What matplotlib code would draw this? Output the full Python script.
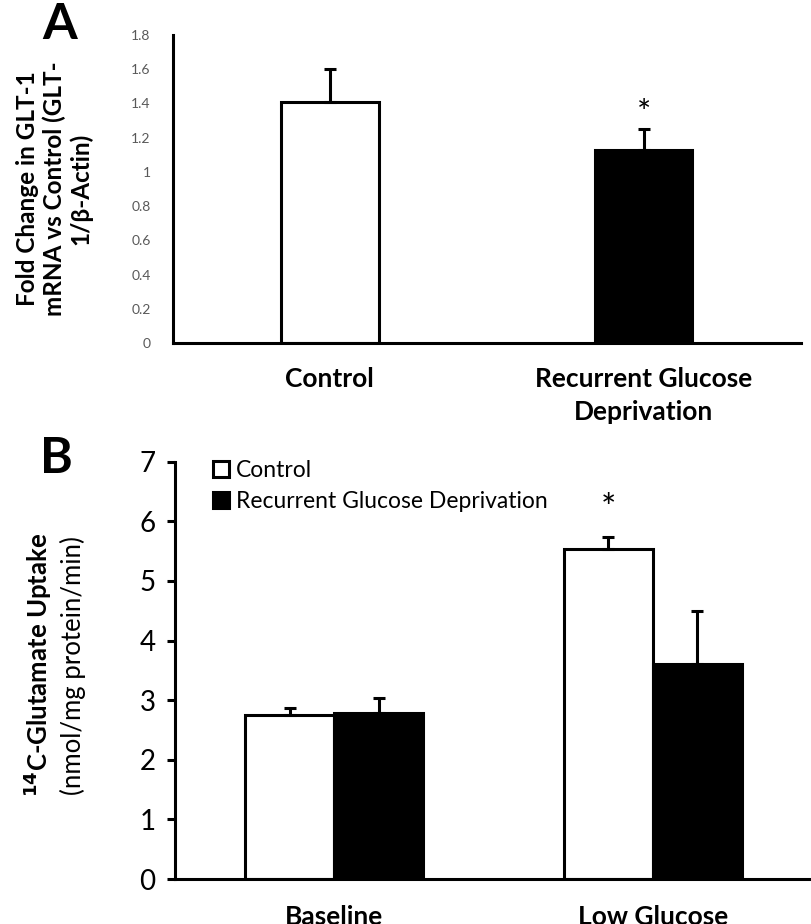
import numpy as np
import matplotlib
matplotlib.use("Agg")
import matplotlib.pyplot as plt

plt.rcParams['font.family'] = ['Lato', 'DejaVu Sans']

# panel A data
a_groups = ["Control", "Recurrent Glucose\nDeprivation"]
a_means = [1.41, 1.13]
a_err = [0.19, 0.12]
a_colors = ["white", "black"]

# panel B data
b_groups = ["Baseline", "Low Glucose"]
b_control = [2.75, 5.53]
b_control_err = [0.12, 0.20]
b_rgd = [2.79, 3.60]
b_rgd_err = [0.24, 0.90]

fig = plt.figure(figsize=(8.12, 9.24), dpi=100)
ekw = dict(ecolor="black", elinewidth=2.2, capsize=4, capthick=2.2)

# ---- panel A ----
axA = fig.add_axes([0.213, 0.6288, 0.773, 0.3333])
xa = np.arange(len(a_groups))
axA.bar(xa, a_means, width=0.31, color=a_colors, edgecolor="black", linewidth=2.2,
        yerr=[np.zeros(2), a_err], error_kw=ekw)
axA.set_xlim(-0.5, 1.5)
axA.set_ylim(0, 1.8)
axA.set_yticks(np.arange(0, 1.81, 0.2))
axA.set_yticklabels(["0", "0.2", "0.4", "0.6", "0.8", "1", "1.2", "1.4", "1.6", "1.8"])
axA.tick_params(axis="y", length=0, labelsize=10, labelcolor="#595959", pad=16)
axA.set_xticks(xa)
axA.set_xticklabels(a_groups, fontsize=19, fontweight="bold", linespacing=1.45)
axA.tick_params(axis="x", length=0, pad=17)
for s in ["top", "right"]:
    axA.spines[s].set_visible(False)
for s in ["left", "bottom"]:
    axA.spines[s].set_linewidth(2.2)
axA.text(1, a_means[1] + a_err[1] + 0.09, "*", ha="center", va="center", fontsize=24)
axA.set_ylabel("Fold Change in GLT-1\nmRNA vs Control (GLT-\n1/\u03b2-Actin)", fontsize=17.5,
               fontweight="bold", labelpad=28, linespacing=1.15)
fig.text(0.074, 0.998, "A", fontsize=36, fontweight="bold", ha="center", va="top")

# ---- panel B ----
axB = fig.add_axes([0.2155, 0.0487, 0.7845, 0.4516])
xb = np.arange(len(b_groups))
w = 0.28
axB.bar(xb - w / 2, b_control, width=w, color="white", edgecolor="black", linewidth=2.2,
        yerr=[np.zeros(2), b_control_err], error_kw=ekw, label="Control")
axB.bar(xb + w / 2, b_rgd, width=w, color="black", edgecolor="black", linewidth=2.2,
        yerr=[np.zeros(2), b_rgd_err], error_kw=ekw, label="Recurrent Glucose Deprivation")
axB.set_xlim(-0.5, 1.5)
axB.set_ylim(0, 7)
axB.set_yticks(range(8))
axB.tick_params(axis="y", length=6, width=2.2, labelsize=20, pad=8)
axB.set_xticks(xb)
axB.set_xticklabels(b_groups, fontsize=19, fontweight="bold")
axB.tick_params(axis="x", length=0, pad=19)
for s in ["top", "right"]:
    axB.spines[s].set_visible(False)
for s in ["left", "bottom"]:
    axB.spines[s].set_linewidth(2.2)
axB.text(1 - w / 2, 6.2, "*", ha="center", va="center", fontsize=26)
axB.legend(loc="upper left", bbox_to_anchor=(0.045, 1.025), frameon=False, fontsize=16.5,
           handlelength=0.7, handleheight=0.7, handletextpad=0.3, labelspacing=0.4, borderaxespad=0)
fig.text(0.046, 0.28, "$\\mathbf{^{14}}$C-Glutamate Uptake", rotation=90, fontsize=18.5,
         fontweight="bold", ha="center", va="center")
fig.text(0.09, 0.28, "(nmol/mg protein/min)", rotation=90, fontsize=18.5,
         ha="center", va="center")
fig.text(0.07, 0.528, "B", fontsize=36, fontweight="bold", ha="center", va="top")

fig.savefig("out.png", dpi=100)
